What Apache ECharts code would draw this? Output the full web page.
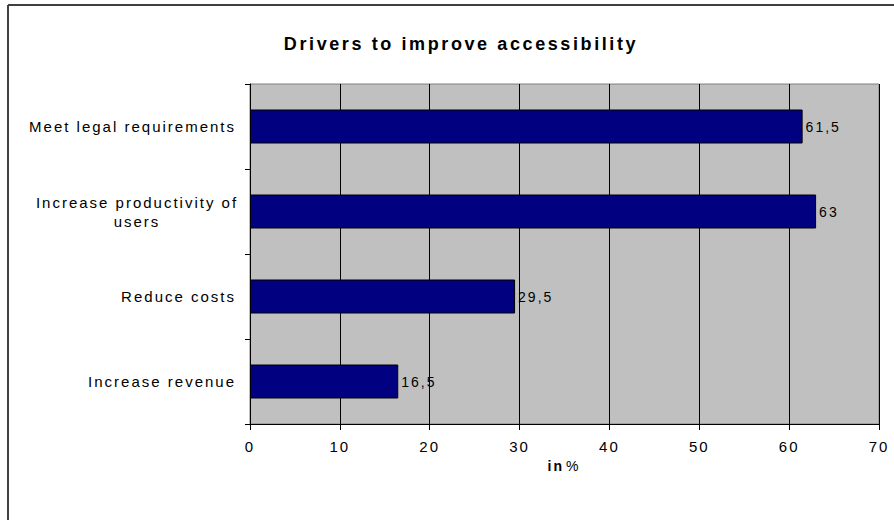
<!DOCTYPE html>
<html>
<head>
<meta charset="utf-8">
<script src="https://cdn.jsdelivr.net/npm/echarts@6/dist/echarts.min.js"></script>
<style>
html,body{margin:0;padding:0;background:#fff;}
#chart{width:894px;height:520px;}
#chart text{letter-spacing:2px;}
#chart text[style*="18px"]{letter-spacing:2.6px;}
</style>
</head>
<body>
<div id="chart"></div>
<script>
var categories = ['Meet legal requirements', 'Increase productivity of\nusers', 'Reduce costs', 'Increase revenue'];
var values = [61.5, 63, 29.5, 16.5];
var xTicks = [0, 10, 20, 30, 40, 50, 60, 70];
var titleText = 'Drivers to improve accessibility';

var FONT = 'Liberation Sans';
var LABEL_SIZE = 15;

var chart = echarts.init(document.getElementById('chart'), null, {renderer: 'svg'});
chart.setOption({
  backgroundColor: '#ffffff',
  animation: false,
  title: {
    text: titleText,
    left: 456,
    top: 30,
    textAlign: 'center',
    textStyle: {fontFamily: FONT, fontSize: 18, fontWeight: 'bold', color: '#000'}
  },
  grid: {
    left: 250, right: 15, top: 84, bottom: 96,
    show: true, backgroundColor: '#C0C0C0', borderColor: '#808080', borderWidth: 1
  },
  xAxis: {
    type: 'value',
    min: xTicks[0], max: xTicks[xTicks.length - 1], interval: xTicks[1] - xTicks[0],
    name: '{b|in}{n|%}',
    nameLocation: 'middle',
    nameGap: 35,
    nameTextStyle: {
      rich: {
        b: {fontFamily: FONT, fontSize: 14, fontWeight: 'bold', color: '#000', padding: [0, 5, 0, 0]},
        n: {fontFamily: FONT, fontSize: 14, color: '#000'}
      }
    },
    axisLine: {show: true, lineStyle: {color: '#000', width: 1}},
    axisTick: {show: true, length: 6, lineStyle: {color: '#000'}},
    axisLabel: {fontFamily: FONT, fontSize: LABEL_SIZE, color: '#000', margin: 15},
    splitLine: {show: true, lineStyle: {color: '#000', width: 1}}
  },
  yAxis: {
    type: 'category',
    inverse: true,
    data: categories,
    axisLine: {show: true, lineStyle: {color: '#000', width: 1}},
    axisTick: {show: true, length: 5, alignWithLabel: false, lineStyle: {color: '#000'}},
    axisLabel: {
      fontFamily: FONT, fontSize: LABEL_SIZE, color: '#000', margin: 14, lineHeight: 19,
      formatter: function (v) {
        var lines = v.split('\n');
        if (lines.length === 1) return v;
        return lines.map(function (l) { return '{c|' + l + '}'; }).join('\n');
      },
      rich: {
        c: {fontFamily: FONT, fontSize: LABEL_SIZE, color: '#000', align: 'center', width: 198, lineHeight: 19}
      }
    },
    splitLine: {show: false}
  },
  series: [{
    type: 'bar',
    data: values,
    barWidth: '40%',
    itemStyle: {color: '#000080', borderColor: '#000', borderWidth: 1},
    label: {
      show: true, position: 'right', distance: 3,
      fontFamily: FONT, fontSize: 14, color: '#000',
      formatter: function (p) { return String(p.value).replace('.', ','); }
    }
  }],
  graphic: [
    {type: 'line', shape: {x1: 8, y1: 5, x2: 894, y2: 5}, style: {stroke: '#404040', lineWidth: 2}, silent: true},
    {type: 'line', shape: {x1: 8, y1: 5, x2: 8, y2: 520}, style: {stroke: '#404040', lineWidth: 2}, silent: true}
  ]
});
</script>
</body>
</html>
